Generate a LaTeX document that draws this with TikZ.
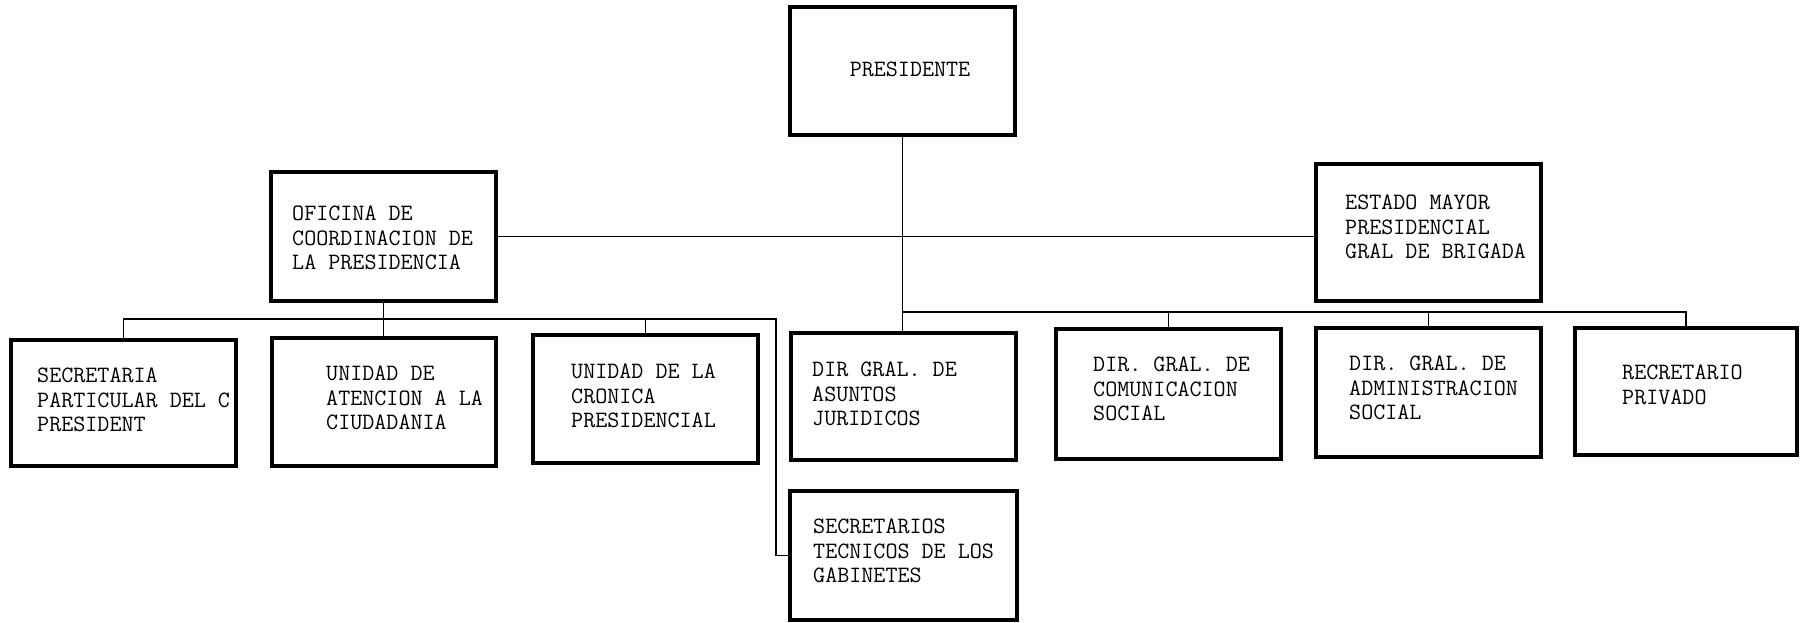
\documentclass[tikz,border=0pt]{standalone}
\usepackage{fontspec}
\begin{document}
\begin{tikzpicture}[x=1pt,y=-1pt,
  box/.style={draw, line width=3.4pt, minimum width=225pt, minimum height=128pt, inner sep=0pt},
  conn/.style={draw, line width=1.4pt},
  txt/.style={anchor=west, align=left, inner sep=0pt, font=\ttfamily\fontsize{23.4}{24.5}\selectfont}]
\useasboundingbox (0,0) rectangle (1800,623);
% boxes
\node[box] (pres) at (902.5,71) {};
\node[box, minimum height=129pt] (ofi) at (383.5,236.5) {};
\node[box, minimum height=137pt] (est) at (1428.5,232.5) {};
\node[box, minimum height=126pt] (sec) at (123.5,403) {};
\node[box, minimum width=224pt] (ate) at (384,402) {};
\node[box] (cro) at (645.5,399) {};
\node[box, minimum height=127pt] (asu) at (903.5,396.5) {};
\node[box, minimum height=130pt] (com) at (1168.5,394) {};
\node[box, minimum height=129pt] (adm) at (1428.5,392.5) {};
\node[box, minimum width=222pt, minimum height=127pt] (rec) at (1686,391.5) {};
\node[box, minimum width=227pt, minimum height=129pt] (stc) at (903.5,555.5) {};
% texts
\node[txt, anchor=center] (tpres) at (910,69) {PRESIDENTE};
\node[txt] (tofi) at (292,238) {OFICINA DE\\COORDINACION DE\\LA PRESIDENCIA};
\node[txt] (test) at (1345,227) {ESTADO MAYOR\\PRESIDENCIAL\\GRAL DE BRIGADA};
\node[txt] (tsec) at (37,400) {SECRETARIA\\PARTICULAR DEL C.\\PRESIDENT};
\node[txt] (tate) at (326,398) {UNIDAD DE\\ATENCION A LA\\CIUDADANIA};
\node[txt] (tcro) at (571,396) {UNIDAD DE LA\\CRONICA\\PRESIDENCIAL};
\node[txt] (tasu) at (812,394) {DIR GRAL. DE\\ASUNTOS\\JURIDICOS};
\node[txt] (tcom) at (1093,389) {DIR. GRAL. DE\\COMUNICACION\\SOCIAL};
\node[txt] (tadm) at (1349,388) {DIR. GRAL. DE\\ADMINISTRACION\\SOCIAL};
\node[txt] (trec) at (1622,385) {RECRETARIO\\PRIVADO};
\node[txt] (tstc) at (813,551) {SECRETARIOS\\TECNICOS DE LOS\\GABINETES};
% connectors
\coordinate (rbus) at (902.5,312);
\coordinate (lbus) at (776,319);
\draw[conn] (pres.south) -- (pres.south |- asu.north);
\draw[conn] (ofi.east) -- (ofi.east -| est.west);
\draw[conn] (rbus) -| (rec.north);
\draw[conn] (com.north) -- (com.north |- rbus);
\draw[conn] (adm.north) -- (adm.north |- rbus);
\draw[conn] (ofi.south) -- (ofi.south |- ate.north);
\draw[conn] (sec.north) |- (lbus) |- (stc.west);
\draw[conn] (cro.north) -- (cro.north |- lbus);
\end{tikzpicture}
\end{document}
